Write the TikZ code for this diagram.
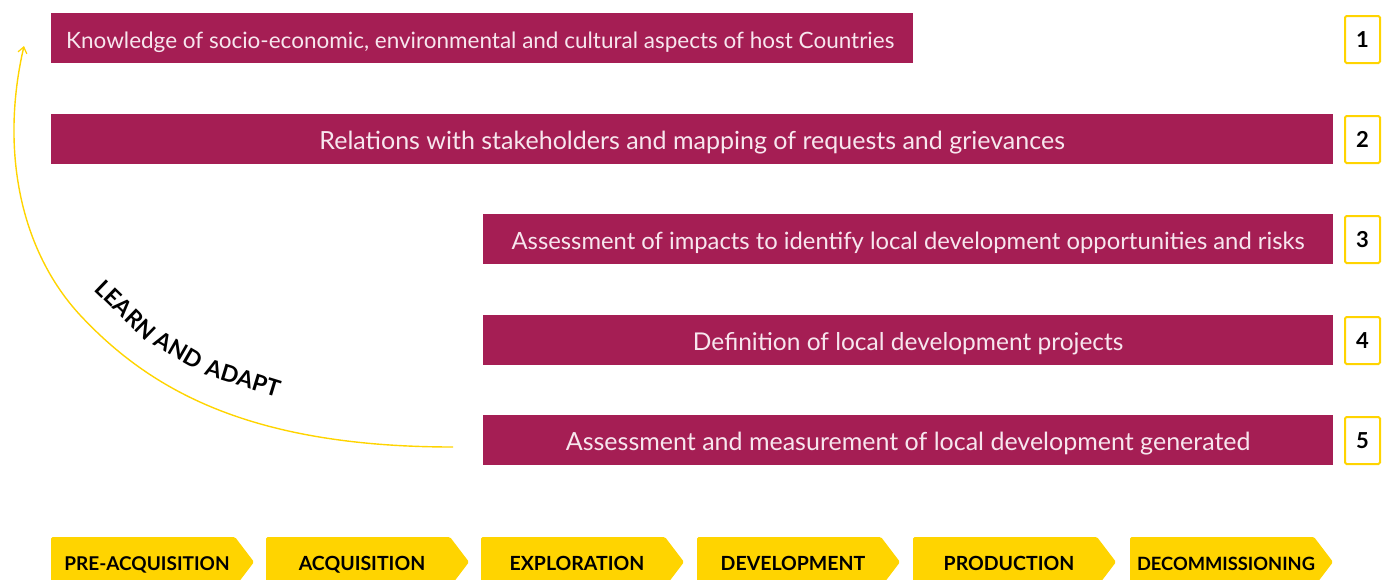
\documentclass[tikz,border=0pt]{standalone}
\usepackage{fontspec}
\setmainfont{Lato}
\usetikzlibrary{arrows.meta}
\definecolor{mag}{HTML}{A51E54}
\definecolor{yel}{HTML}{FFD400}
\definecolor{ptext}{HTML}{F7E6EE}
\tikzset{
  stagebox/.style={fill=mag, draw=none, inner sep=0pt, minimum height=50pt, anchor=north west},
  stagetext/.style={text=ptext, font=\fontsize{24.5}{28}\selectfont, inner sep=0pt, anchor=base},
  numbox/.style={draw=yel, line width=2pt, rounded corners=1.5pt, fill=white, minimum width=35pt, minimum height=47pt, inner sep=0pt, font=\bfseries\fontsize{22}{24}\selectfont, anchor=north west},
  phase/.style={fill=yel, draw=none, rounded corners=1.5pt},
  phaselabel/.style={text=black, inner sep=0pt, anchor=base},
  learn/.style={font=\bfseries\fontsize{23}{26}\selectfont, inner sep=0pt, text=black},
  loop/.style={draw=yel, line width=1.4pt, -{Straight Barb[length=6pt,width=9pt,line width=1.2pt]}}
}
\begin{document}
\begin{tikzpicture}[x=1pt,y=-1pt]
\useasboundingbox (0,0) rectangle (1383,579);
\clip (0,0) rectangle (1383,579);
% stage boxes
\node[stagebox, minimum width=862pt] (s1) at (51,13) {};
\node[stagetext, anchor=base west, font=\fontsize{22.5}{26}\selectfont] (t1) at (66,48.5) {Knowledge of socio-economic, environmental and cultural aspects of host Countries};
\node[stagebox, minimum width=1282pt] (s2) at (51,114) {};
\node[stagetext, font=\fontsize{25}{28}\selectfont] (t2) at ([yshift=-10pt]s2.center) {Relations with stakeholders and mapping of requests and grievances};
\node[stagebox, minimum width=850pt] (s3) at (483,214) {};
\node[stagetext, font=\fontsize{23.8}{28}\selectfont] (t3) at ([yshift=-10pt]s3.center) {Assessment of impacts to identify local development opportunities and risks};
\node[stagebox, minimum width=850pt] (s4) at (483,315) {};
\node[stagetext] (t4) at ([yshift=-10pt]s4.center) {Definition of local development projects};
\node[stagebox, minimum width=850pt] (s5) at (483,415) {};
\node[stagetext, font=\fontsize{25}{28}\selectfont] (t5) at ([yshift=-10pt]s5.center) {Assessment and measurement of local development generated};
% number boxes
\node[numbox] (n1) at (1344,15) {1};
\node[numbox] (n2) at (1344,115) {2};
\node[numbox] (n3) at (1344,215) {3};
\node[numbox] (n4) at (1344,316) {4};
\node[numbox] (n5) at (1344,416) {5};
% loop arrow
\coordinate (ls) at (453,447);
\coordinate (lm) at (80,315);
\coordinate (le) at (24,46);
\draw[loop] (ls) .. controls (250,447) and (150,390) .. (lm) .. controls (20,250) and (0,150) .. (le);
\node[learn, rotate=-44] (la) at (126,310) {LEARN};
\node[learn, rotate=-30] (lb) at (179,350) {AND};
\node[learn, rotate=-17] (lc) at (243,378) {ADAPT};
% phases
\foreach \x/\lab/\nm/\fs in {51/PRE-ACQUISITION/p1/19, 266/ACQUISITION/p2/19.5, 481/EXPLORATION/p3/19.5, 697/DEVELOPMENT/p4/19.5, 913/PRODUCTION/p5/19.5, 1130/DECOMMISSIONING/p6/18.3}{
  \fill[phase] (\x,537) -- (\x+184,537) -- (\x+203,562) -- (\x+184,587) -- (\x,587) -- cycle;
  \node[phaselabel, font=\bfseries\fontsize{\fs}{22}\selectfont] (\nm) at (\x+96,570) {\lab};
}
\end{tikzpicture}
\end{document}
